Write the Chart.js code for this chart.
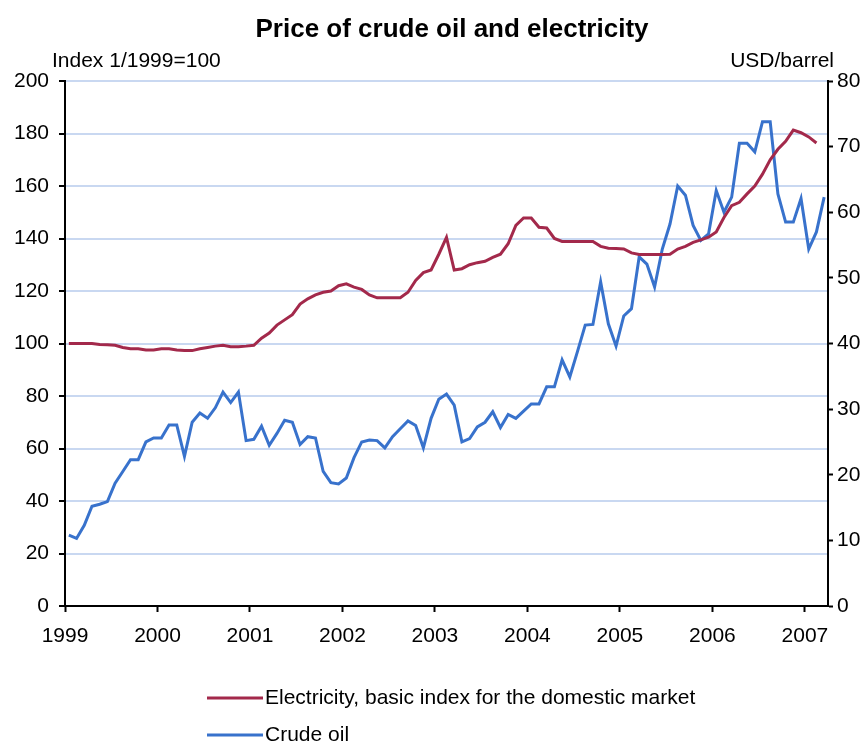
<!DOCTYPE html>
<html>
<head>
<meta charset="utf-8">
<title>Price of crude oil and electricity</title>
<script src="https://cdn.jsdelivr.net/npm/chart.js@4/dist/chart.umd.min.js"></script>
<style>
  html, body { margin: 0; padding: 0; background: #fff; }
  #wrap { position: relative; width: 867px; height: 742px; }
</style>
</head>
<body>
<div id="wrap"><canvas id="myChart" width="867" height="742"></canvas></div>
<script>
// monthly values, Jan 1999 onwards
const yearLabels = ['1999','2000','2001','2002','2003','2004','2005','2006','2007'];
const leftTicks = [0,20,40,60,80,100,120,140,160,180,200];
const rightTicks = [0,10,20,30,40,50,60,70,80];

// Electricity, basic index for the domestic market (1/1999 = 100), Jan 1999 - Feb 2007
const electricity = [
  100,100,100,100,99.6,99.5,99.3,98.5,98,98,97.5,97.5,
  98,98,97.5,97.3,97.3,98,98.5,99,99.3,98.8,98.8,99,
  99.3,102,104,107,109,111,115,117,118.5,119.5,120,122,
  122.7,121.5,120.6,118.5,117.4,117.4,117.4,117.4,119.5,124,127,128,
  134,140.4,128,128.5,130,130.8,131.3,132.8,134,138,145,147.8,
  147.8,144.3,144,140,138.9,138.9,138.9,138.9,138.9,137,136.3,136.2,
  136,134.5,133.9,133.9,133.9,133.9,134,136,137,138.5,139.5,140.5,
  142.5,148,152.5,153.8,157,160,164.5,170,174,177,181.3,180.3,
  178.7,176.4
];

// Crude oil, USD/barrel, Jan 1999 - Mar 2007
const crudeOil = [
  10.8,10.3,12.3,15.2,15.5,15.9,18.7,20.5,22.3,22.3,25,25.6,
  25.6,27.6,27.6,22.8,28,29.4,28.6,30.2,32.6,31,32.6,25.2,
  25.4,27.4,24.5,26.3,28.3,28,24.6,25.8,25.6,20.5,18.8,18.6,
  19.5,22.6,25,25.3,25.2,24.1,25.8,27,28.2,27.5,24.1,28.6,
  31.5,32.3,30.6,25,25.5,27.3,28,29.6,27.2,29.2,28.6,29.7,
  30.8,30.8,33.4,33.4,37.5,34.9,38.8,42.8,42.9,49.4,43,39.6,
  44.2,45.3,53.2,52.1,48.6,54.4,58.2,64,62.6,58,55.7,56.7,
  63.3,60,62.3,70.5,70.5,69.2,73.8,73.8,62.8,58.5,58.5,62.1,
  54.4,57,62.3
];

const FONT = '"Liberation Sans", Arial, sans-serif';
const toPoints = arr => arr.map((v, i) => ({ x: i + 0.5, y: v }));

const textPlugin = {
  id: 'textPlugin',
  afterDraw(chart) {
    const ctx = chart.ctx;
    ctx.save();
    ctx.fillStyle = '#000';
    ctx.textBaseline = 'middle';
    ctx.font = 'bold 26px ' + FONT;
    ctx.textAlign = 'center';
    ctx.fillText('Price of crude oil and electricity', 452, 30);
    ctx.font = '21px ' + FONT;
    ctx.textAlign = 'left';
    ctx.fillText('Index 1/1999=100', 52, 61);
    ctx.textAlign = 'right';
    ctx.fillText('USD/barrel', 834, 61);
    // legend, stacked
    ctx.textAlign = 'left';
    chart.data.datasets.forEach((ds, i) => {
      const y = 698 + i * 37;
      ctx.strokeStyle = ds.borderColor;
      ctx.lineWidth = 3;
      ctx.beginPath();
      ctx.moveTo(207, y);
      ctx.lineTo(263, y);
      ctx.stroke();
      ctx.fillText(ds.label, 265, y);
    });
    ctx.restore();
  }
};

const ctx = document.getElementById('myChart').getContext('2d');
new Chart(ctx, {
  type: 'line',
  data: {
    datasets: [
      {
        label: 'Electricity, basic index for the domestic market',
        data: toPoints(electricity),
        yAxisID: 'y',
        borderColor: '#a3294b',
        borderWidth: 3,
        pointRadius: 0,
        tension: 0
      },
      {
        label: 'Crude oil',
        data: toPoints(crudeOil),
        yAxisID: 'y2',
        borderColor: '#3872cc',
        borderWidth: 3,
        pointRadius: 0,
        tension: 0
      }
    ]
  },
  options: {
    responsive: false,
    animation: false,
    layout: { padding: { top: 81, bottom: 86, left: 0, right: 0 } },
    plugins: {
      legend: { display: false },
      tooltip: { enabled: false }
    },
    scales: {
      x: {
        type: 'linear',
        min: 0,
        max: 99,
        afterBuildTicks(scale) {
          scale.ticks = yearLabels.map((l, i) => ({ value: i * 12 }));
        },
        afterFit(scale) { scale.height = 50; },
        ticks: {
          callback: (v) => yearLabels[v / 12],
          color: '#000',
          font: { family: FONT, size: 21 },
          padding: 12,
          maxRotation: 0,
          autoSkip: false
        },
        grid: { drawOnChartArea: false, color: '#000', tickLength: 6, tickWidth: 2 },
        border: { color: '#000', width: 2 }
      },
      y: {
        position: 'left',
        min: 0,
        max: 200,
        afterBuildTicks(scale) {
          scale.ticks = leftTicks.map(v => ({ value: v }));
        },
        afterFit(scale) { scale.width = 65; },
        ticks: {
          color: '#000',
          font: { family: FONT, size: 21 },
          padding: 10
        },
        grid: {
          color: '#c9d8f1',
          lineWidth: 2,
          tickColor: '#000',
          tickLength: 6,
          tickWidth: 2
        },
        border: { color: '#000', width: 2 }
      },
      y2: {
        position: 'right',
        min: 0,
        max: 80,
        afterBuildTicks(scale) {
          scale.ticks = rightTicks.map(v => ({ value: v }));
        },
        afterFit(scale) { scale.width = 39; },
        ticks: {
          color: '#000',
          font: { family: FONT, size: 21 },
          padding: 4
        },
        grid: { drawOnChartArea: false, color: '#000', tickLength: 5, tickWidth: 2 },
        border: { color: '#000', width: 2 }
      }
    }
  },
  plugins: [textPlugin]
});
</script>
</body>
</html>
